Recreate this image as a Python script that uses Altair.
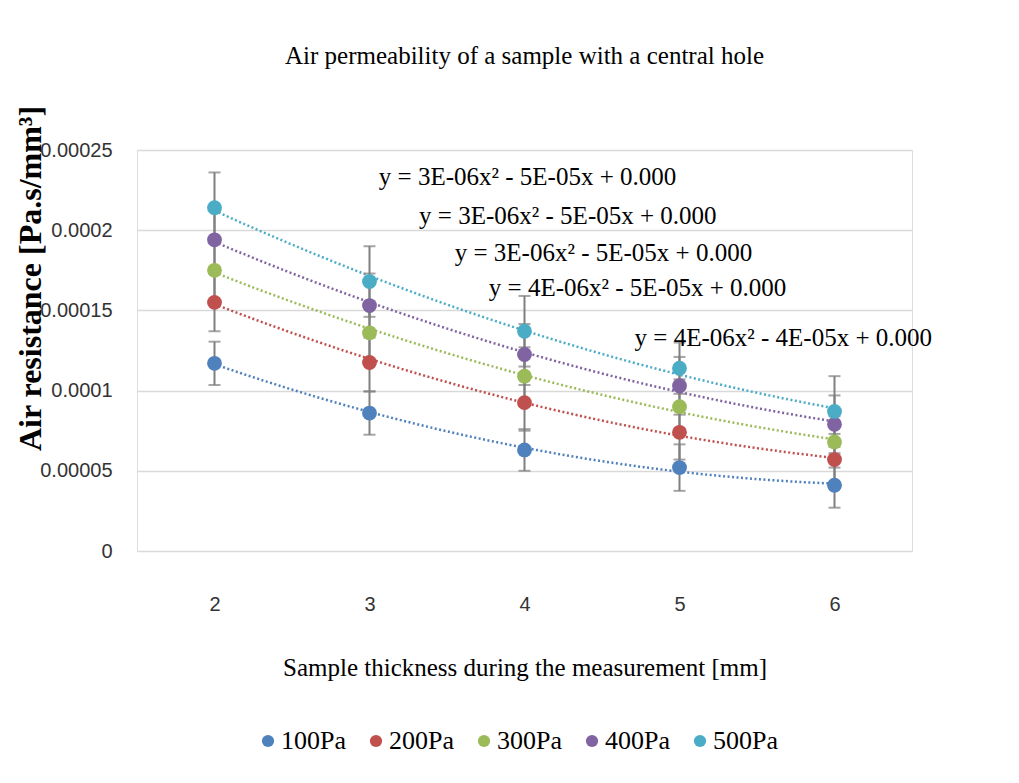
import altair as alt
import pandas as pd

# ---- data ----
thickness = [2, 3, 4, 5, 6]
series_names = ["100Pa", "200Pa", "300Pa", "400Pa", "500Pa"]
r100 = [0.000117, 0.000086, 0.000063, 0.000052, 0.000041]
r200 = [0.000155, 0.0001175, 0.0000925, 0.000074, 0.000057]
r300 = [0.000175, 0.000136, 0.000109, 0.000090, 0.000068]
r400 = [0.000194, 0.000153, 0.0001225, 0.000103, 0.000079]
r500 = [0.000214, 0.000168, 0.000137, 0.000114, 0.000087]
e100 = [0.0000135, 0.0000135, 0.000013, 0.0000145, 0.000014]
e200 = [0.000018, 0.000018, 0.0000175, 0.000017, 0.000016]
e300 = [0.000019, 0.000018, 0.000018, 0.000017, 0.000016]
e400 = [0.00002, 0.00002, 0.000019, 0.000018, 0.000018]
e500 = [0.000022, 0.000022, 0.000022, 0.000016, 0.000022]
colors = ["#4F81BD", "#C0504D", "#9BBB59", "#8064A2", "#4BACC6"]

eq_text = [
    "y = 3E-06x² - 5E-05x + 0.000",
    "y = 3E-06x² - 5E-05x + 0.000",
    "y = 3E-06x² - 5E-05x + 0.000",
    "y = 4E-06x² - 5E-05x + 0.000",
    "y = 4E-06x² - 4E-05x + 0.000",
]
eq_x = [3.06, 3.32, 3.55, 3.77, 4.71]
eq_y = [0.000233, 0.000209, 0.0001856, 0.000164, 0.000133]

y_ticks = [0, 0.00005, 0.0001, 0.00015, 0.0002, 0.00025]

# ---- tables ----
vals = [r100, r200, r300, r400, r500]
errs = [e100, e200, e300, e400, e500]
rows = []
for name, v, e in zip(series_names, vals, errs):
    for t, vv, ee in zip(thickness, v, e):
        rows.append({"thickness": t, "resistance": vv, "series": name,
                     "lo": vv - ee, "hi": vv + ee})
df = pd.DataFrame(rows)
eq_df = pd.DataFrame({"x": eq_x, "y": eq_y, "label": eq_text})

SERIF = "Liberation Serif"
SANS = "Liberation Sans"

xscale = alt.Scale(domain=[1.5, 6.5], nice=False)
yscale = alt.Scale(domain=[0, 0.00025], nice=False)
cscale = alt.Scale(domain=series_names, range=colors)

xax = alt.Axis(values=thickness, format="d", title="Sample thickness during the measurement [mm]",
               grid=False, domain=False, ticks=False, labelPadding=43,
               labelFont=SANS, labelFontSize=20, labelColor="#333333",
               titleFont=SERIF, titleFontSize=25, titleFontWeight="normal", titleColor="#000000",
               titleY=116, titleBaseline="middle")
yax = alt.Axis(values=y_ticks, format=".5~f", title="Air resistance [Pa.s/mm³]",
               grid=True, gridColor="#d9d9d9", gridWidth=1.5, domain=False, ticks=False,
               labelPadding=25, labelFont=SANS, labelFontSize=20, labelColor="#333333",
               titleFont=SERIF, titleFontSize=32, titleFontWeight="bold", titleColor="#000000",
               titleX=-107, titleY=128, titleBaseline="middle", titleAlign="center", titleAngle=-90)

legend = alt.Legend(
    title=None, orient="none", direction="horizontal", legendX=118, legendY=578,
    symbolType="circle", symbolSize=150, symbolStrokeWidth=0, symbolOpacity=1,
    labelFont=SERIF, labelFontSize=26, labelColor="#000000",
    labelOffset=0, columnPadding=17, columns=5)

base = alt.Chart(df)

trend = base.transform_regression(
    "thickness", "resistance", groupby=["series"], method="poly", order=2
).mark_line(strokeDash=[2, 2.5], strokeWidth=2.5).encode(
    x=alt.X("thickness:Q", scale=xscale, axis=xax),
    y=alt.Y("resistance:Q", scale=yscale, axis=yax),
    color=alt.Color("series:N", scale=cscale, legend=legend),
    detail="series:N",
)

err_rule = base.mark_rule(color="#7f7f7f", strokeWidth=2).encode(
    x=alt.X("thickness:Q", scale=xscale),
    y=alt.Y("lo:Q", scale=yscale),
    y2="hi:Q",
)
cap_lo = base.mark_tick(color="#7f7f7f", orient="horizontal", size=12, thickness=2).encode(
    x=alt.X("thickness:Q", scale=xscale),
    y=alt.Y("lo:Q", scale=yscale),
)
cap_hi = base.mark_tick(color="#7f7f7f", orient="horizontal", size=12, thickness=2).encode(
    x=alt.X("thickness:Q", scale=xscale),
    y=alt.Y("hi:Q", scale=yscale),
)

points = base.mark_point(filled=True, shape="circle", size=220, opacity=1).encode(
    x=alt.X("thickness:Q", scale=xscale),
    y=alt.Y("resistance:Q", scale=yscale),
    color=alt.Color("series:N", scale=cscale, legend=legend),
)

eqs = alt.Chart(eq_df).mark_text(font=SERIF, fontSize=25, align="left", baseline="middle",
                                 color="#000000").encode(
    x=alt.X("x:Q", scale=xscale),
    y=alt.Y("y:Q", scale=yscale),
    text="label:N",
)

chart = alt.layer(trend, err_rule, cap_lo, cap_hi, points, eqs).properties(
    width=775, height=401,
    title=alt.TitleParams("Air permeability of a sample with a central hole", font=SERIF,
                          fontSize=25, fontWeight="normal", color="#000000",
                          anchor="middle", offset=36),
    autosize=alt.AutoSizeParams(type="none"),
    padding={"left": 129, "top": 142, "right": 90, "bottom": 212},
).configure_view(stroke=None).configure(background="#ffffff").configure_legend(
    labelFont=SERIF, labelFontSize=26, labelColor="#000000"
)

chart.save("out.html", embed_options={"renderer": "svg", "actions": False})
